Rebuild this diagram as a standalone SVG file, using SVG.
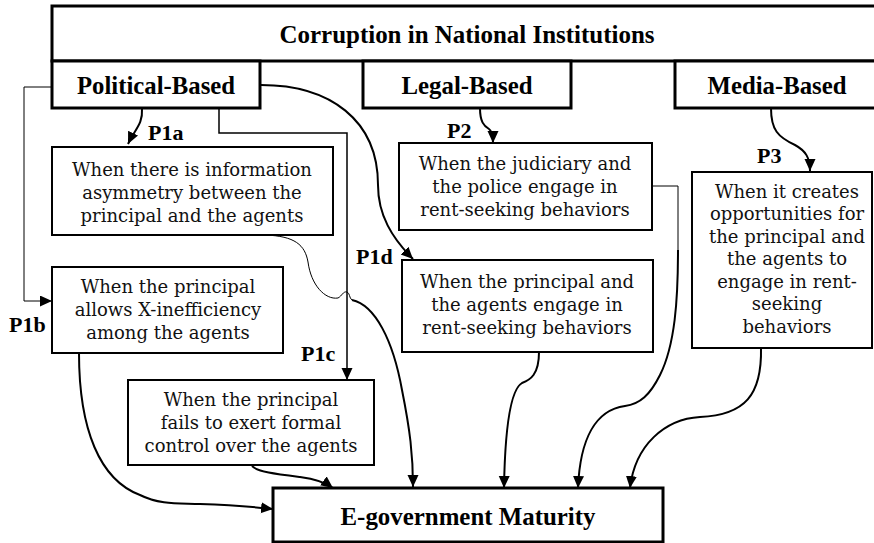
<svg xmlns="http://www.w3.org/2000/svg" width="874" height="543" viewBox="0 0 874 543">
<defs>
<marker id="ah" markerUnits="userSpaceOnUse" markerWidth="13" markerHeight="12" refX="12" refY="5.5" orient="auto">
<path d="M0,0 L12,5.5 L0,11 z" fill="#000"/>
</marker>
<style>
rect{fill:#fff;stroke:#000}
.hb{stroke-width:3}
.bx{stroke-width:2}
.h{font-family:"Liberation Serif","Times New Roman",serif;font-weight:bold;font-size:25px;fill:#000;text-anchor:middle}
.t{font-family:"DejaVu Serif",Georgia,serif;font-size:18px;fill:#111;text-anchor:middle}
.lb{font-family:"Liberation Serif","Times New Roman",serif;font-weight:bold;font-size:22px;fill:#000}
.c{fill:none;stroke:#000;stroke-width:2}
.ct{fill:none;stroke:#000;stroke-width:1}
</style>
</defs>
<rect width="874" height="543" fill="#fff" style="stroke:none"/>
<g id="title">
<rect class="hb" x="52" y="6" width="830" height="55"/>
<text class="h" x="467" y="43" textLength="375" lengthAdjust="spacingAndGlyphs">Corruption in National Institutions</text>
</g>
<g id="political">
<rect class="hb" x="52" y="61" width="208" height="47"/>
<text class="h" x="156" y="94" textLength="158" lengthAdjust="spacingAndGlyphs">Political-Based</text>
</g>
<g id="legal">
<rect class="hb" x="363" y="61" width="208" height="47"/>
<text class="h" x="467" y="94" textLength="131" lengthAdjust="spacingAndGlyphs">Legal-Based</text>
</g>
<g id="media">
<rect class="hb" x="675" y="61" width="210" height="47"/>
<text class="h" x="777" y="94" textLength="139" lengthAdjust="spacingAndGlyphs">Media-Based</text>
</g>
<g id="p1a">
<rect class="bx" x="52" y="147" width="281" height="88"/>
<text class="t" x="192" y="176">When there is information</text>
<text class="t" x="192" y="199">asymmetry between the</text>
<text class="t" x="192" y="222">principal and the agents</text>
</g>
<g id="p2">
<rect class="bx" x="399" y="143" width="253" height="87"/>
<text class="t" x="525" y="170">When the judiciary and</text>
<text class="t" x="525" y="193">the police engage in</text>
<text class="t" x="525" y="216">rent-seeking behaviors</text>
</g>
<g id="p3">
<rect class="bx" x="692" y="172" width="180" height="176"/>
<text class="t" x="787" y="198">When it creates</text>
<text class="t" x="787" y="220">opportunities for</text>
<text class="t" x="787" y="243">the principal and</text>
<text class="t" x="787" y="265">the agents to</text>
<text class="t" x="787" y="288">engage in rent-</text>
<text class="t" x="787" y="310">seeking</text>
<text class="t" x="787" y="333">behaviors</text>
</g>
<g id="p1b">
<rect class="bx" x="52" y="267" width="231" height="86"/>
<text class="t" x="168" y="293">When the principal</text>
<text class="t" x="168" y="316">allows X-inefficiency</text>
<text class="t" x="168" y="339">among the agents</text>
</g>
<g id="p1d">
<rect class="bx" x="402" y="260" width="251" height="92"/>
<text class="t" x="527" y="288">When the principal and</text>
<text class="t" x="527" y="311">the agents engage in</text>
<text class="t" x="527" y="334">rent-seeking behaviors</text>
</g>
<g id="p1c">
<rect class="bx" x="128" y="380" width="246" height="85"/>
<text class="t" x="251" y="406">When the principal</text>
<text class="t" x="251" y="429">fails to exert formal</text>
<text class="t" x="251" y="452">control over the agents</text>
</g>
<g id="egov">
<rect class="hb" x="273" y="488" width="390" height="54"/>
<text class="h" x="468" y="525" textLength="255" lengthAdjust="spacingAndGlyphs">E-government Maturity</text>
</g>
<g id="connectors">
<path class="c" d="M142,109 C143,124 135,129 128,144" marker-end="url(#ah)"/>
<path class="ct" d="M52,87 H24 V301 H52" marker-end="url(#ah)"/>
<path class="c" style="stroke-width:1.5" d="M219,108 V133 H347 V380" marker-end="url(#ah)"/>
<path class="c" d="M261,85 C330,85 378,120 378,185 C378,215 392,238 413,259" marker-end="url(#ah)"/>
<path class="c" d="M480,108 C480,122 484,126 489,129 C492,131 493,135 493,143" marker-end="url(#ah)"/>
<path class="c" d="M771,108 C771,130 778,137 795,145 C806,151 810,158 810,171" marker-end="url(#ah)"/>
<path class="ct" d="M265,235 C295,236 305,245 308,262 C311,285 325,300 338,298 C342,296 343,291 347,292 C350,293 349,298 352,300"/>
<path class="c" d="M352,300 C375,305 393,340 402,390 C410,430 413,455 413,487" marker-end="url(#ah)"/>
<path class="c" d="M79,353 C79,430 100,480 140,495 C160,505 180,503 200,504 C230,505 255,507 273,509" marker-end="url(#ah)"/>
<path class="c" d="M252,466 C258,472 275,474 300,477 C315,479 325,482 333,488" marker-end="url(#ah)"/>
<path class="c" d="M539,352 C539,375 530,380 522,383 C510,390 505,430 504,488" marker-end="url(#ah)"/>
<path class="ct" d="M652,186 H678 V250"/>
<path class="c" d="M678,250 C678,300 675,345 660,375 C650,395 640,404 625,406 C595,410 580,440 578,488" marker-end="url(#ah)"/>
<path class="c" d="M761,348 C762,395 745,415 700,417 C665,419 635,445 630,488" marker-end="url(#ah)"/>
</g>
<g id="labels">
<text class="lb" x="148" y="140">P1a</text>
<text class="lb" x="9" y="332">P1b</text>
<text class="lb" x="301" y="361">P1c</text>
<text class="lb" x="356" y="264">P1d</text>
<text class="lb" x="447" y="138">P2</text>
<text class="lb" x="757" y="163">P3</text>
</g>
</svg>
